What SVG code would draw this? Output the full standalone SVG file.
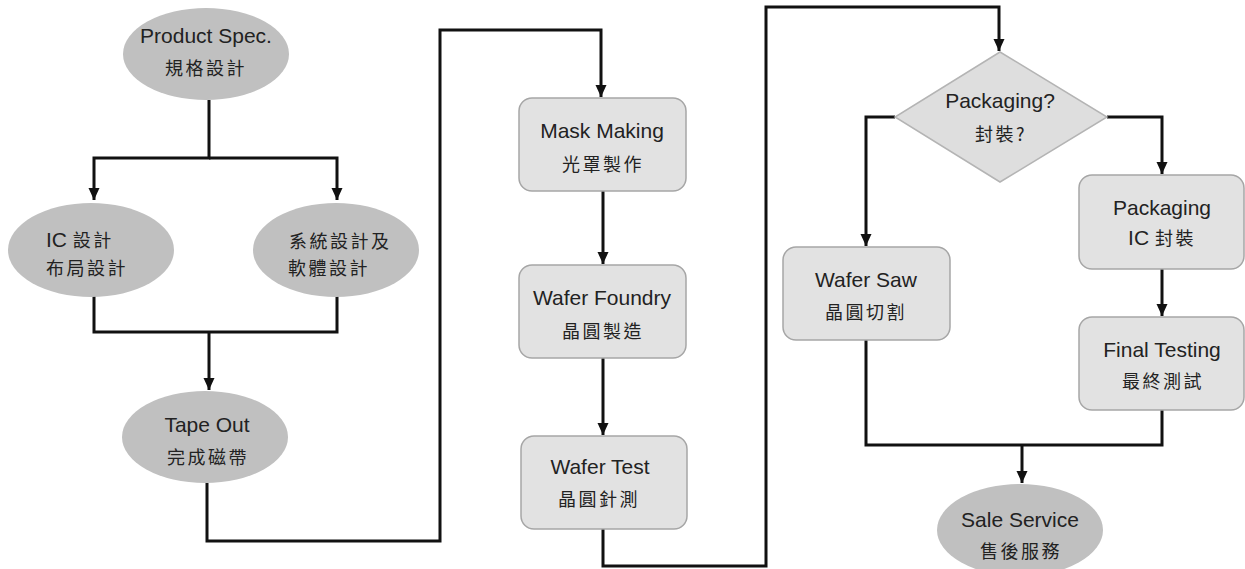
<svg xmlns="http://www.w3.org/2000/svg" width="1245" height="569" viewBox="0 0 1245 569">
<style>
.ell{fill:#c0c0c0;stroke:none}
.box{fill:#e2e2e2;stroke:#a6a6a6;stroke-width:1.5}
.dia{fill:#dedede;stroke:#b4b4b4;stroke-width:1.5}
.en{font-family:"Liberation Sans",Arial,sans-serif;font-size:21px;fill:#222;text-anchor:middle}
.zh{font-family:"Noto Sans CJK TC","Noto Sans CJK SC",sans-serif;font-size:18px;fill:#222;text-anchor:middle;letter-spacing:2.5px}
.l{text-anchor:start}
.con path{fill:none;stroke:#111;stroke-width:3}
</style>
<defs>
<marker id="arr" markerUnits="userSpaceOnUse" markerWidth="14" markerHeight="14" viewBox="0 0 14 14" refX="12" refY="7" orient="auto">
<path d="M0,1.5 L12,7 L0,12.5 Z" fill="#111"/>
</marker>
</defs>
<rect width="1245" height="569" fill="#fff"/>
<g class="con">
<path d="M209,100 V158 H94 V200" marker-end="url(#arr)"/>
<path d="M209,158 H337 V200" marker-end="url(#arr)"/>
<path d="M94,296 V332 H337 V296"/>
<path d="M209,332 V390" marker-end="url(#arr)"/>
<path d="M207,483 V541 H440 V30 H601 V97" marker-end="url(#arr)"/>
<path d="M603,191 V264" marker-end="url(#arr)"/>
<path d="M603,358 V435" marker-end="url(#arr)"/>
<path d="M603,529 V566 H766 V7 H999 V51" marker-end="url(#arr)"/>
<path d="M895,117 H866 V246" marker-end="url(#arr)"/>
<path d="M1107,117 H1162 V174" marker-end="url(#arr)"/>
<path d="M1162,269 V316" marker-end="url(#arr)"/>
<path d="M866,340 V445 H1162 V410"/>
<path d="M1022,445 V483" marker-end="url(#arr)"/>
</g>
<g id="product-spec">
<ellipse class="ell" cx="206" cy="54" rx="83" ry="46"/>
<text class="en" x="206" y="43">Product Spec.</text>
<text class="zh" x="206" y="75">規格設計</text>
</g>
<g id="ic-design">
<ellipse class="ell" cx="91" cy="250" rx="83" ry="47"/>
<text class="en l" x="46" y="247">IC <tspan class="zh" style="text-anchor:start">設計</tspan></text>
<text class="zh l" x="46" y="275">布局設計</text>
</g>
<g id="system-design">
<ellipse class="ell" cx="336" cy="250" rx="83" ry="47"/>
<text class="zh l" x="289" y="248">系統設計及</text>
<text class="zh l" x="288" y="275">軟體設計</text>
</g>
<g id="tape-out">
<ellipse class="ell" cx="205" cy="437" rx="83" ry="46"/>
<text class="en" x="207" y="432">Tape Out</text>
<text class="zh" x="208" y="464">完成磁帶</text>
</g>
<g id="mask-making">
<rect class="box" x="519" y="98" width="167" height="93" rx="13"/>
<text class="en" x="602" y="138">Mask Making</text>
<text class="zh" x="603" y="171">光罩製作</text>
</g>
<g id="wafer-foundry">
<rect class="box" x="519" y="265" width="167" height="93" rx="13"/>
<text class="en" x="602" y="305">Wafer Foundry</text>
<text class="zh" x="603" y="338">晶圓製造</text>
</g>
<g id="wafer-test">
<rect class="box" x="521" y="436" width="166" height="93" rx="13"/>
<text class="en" x="600" y="474">Wafer Test</text>
<text class="zh" x="599" y="506">晶圓針測</text>
</g>
<g id="packaging-decision">
<polygon class="dia" points="1000,52 1107,117 1000,182 895,117"/>
<text class="en" x="1000" y="108">Packaging?</text>
<text class="zh" x="1001" y="141">封裝?</text>
</g>
<g id="wafer-saw">
<rect class="box" x="783" y="247" width="167" height="93" rx="13"/>
<text class="en" x="866" y="287">Wafer Saw</text>
<text class="zh" x="866" y="319">晶圓切割</text>
</g>
<g id="packaging">
<rect class="box" x="1079" y="175" width="165" height="94" rx="13"/>
<text class="en" x="1162" y="215">Packaging</text>
<text class="en" x="1162" y="245">IC <tspan class="zh">封裝</tspan></text>
</g>
<g id="final-testing">
<rect class="box" x="1079" y="317" width="165" height="93" rx="13"/>
<text class="en" x="1162" y="357">Final Testing</text>
<text class="zh" x="1163" y="388">最終測試</text>
</g>
<g id="sale-service">
<ellipse class="ell" cx="1020" cy="530" rx="83" ry="46"/>
<text class="en" x="1020" y="527">Sale Service</text>
<text class="zh" x="1021" y="558">售後服務</text>
</g>
</svg>
